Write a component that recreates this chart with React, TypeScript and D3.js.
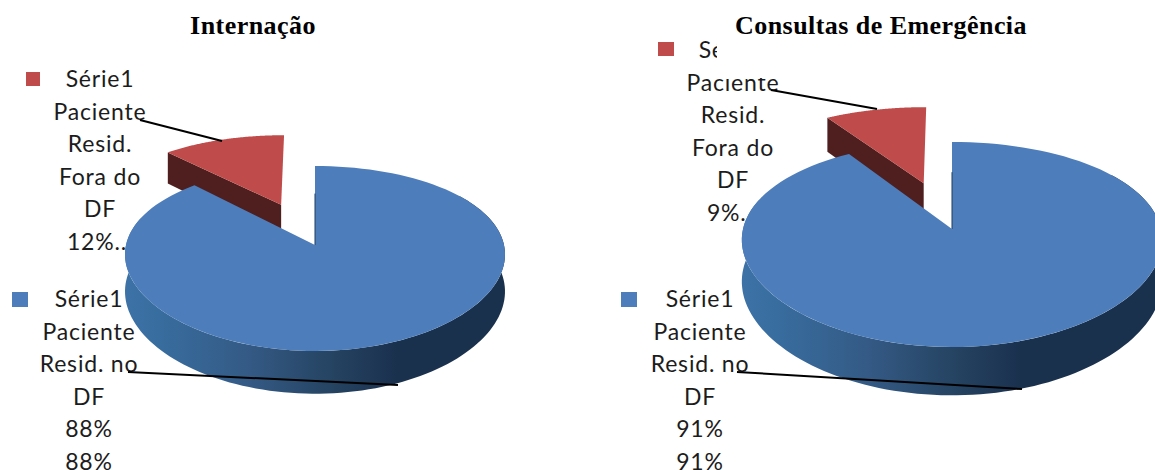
import React from "react";
import * as d3 from "d3";

// values (percent)
const categories = ["Paciente Resid. no DF", "Paciente Resid. Fora do DF"];
const internacao = [88, 12];
const emergencia = [91, 9];
const titles = ["Internação", "Consultas de Emergência"];
const blueLinesLeft = ["Série1", "Paciente", "Resid. no", "DF", "88%", "88%"];
const redLinesLeft = ["Série1", "Paciente", "Resid.", "Fora do", "DF", "12%..."];
const blueLinesRight = ["Série1", "Paciente", "Resid. no", "DF", "91%", "91%"];
const redLinesRight = ["Série1", "Paciente", "Resid.", "Fora do", "DF", "9%..."];

const BLUE = "#4d7ebb";
const RED = "#bf4c4a";
const RED_DARK = "#4f1f1f";
const EXPLODE = 0.51;
const LINE_GAP = 32.6;

type Layout = {
  id: string;
  values: number[];
  title: string;
  titleX: number;
  cx: number;
  cy: number;
  rx: number;
  ry: number;
  k: number; // perspective strength
  h: number; // pie thickness
  gradEnd: number;
  blue: { lines: string[]; x: number; y: number; swatch: number[]; leader: number[] };
  red: { lines: string[]; x: number; y: number; swatch: number[]; leader: number[] };
};

const charts: Layout[] = [
  {
    id: "a", values: internacao, title: titles[0], titleX: 253,
    cx: 315, cy: 245, rx: 189, ry: 90.5, k: 0.146, h: 36.5, gradEnd: 397,
    blue: { lines: blueLinesLeft, x: 89, y: 307, swatch: [12, 292, 16, 15], leader: [128, 372, 398, 385] },
    red: { lines: redLinesLeft, x: 100, y: 87, swatch: [26, 72, 14, 14], leader: [140, 120, 222, 141] },
  },
  {
    id: "b", values: emergencia, title: titles[1], titleX: 881,
    cx: 952, cy: 229, rx: 209, ry: 100.2, k: 0.151, h: 41, gradEnd: 1021,
    blue: { lines: blueLinesRight, x: 700, y: 307, swatch: [621, 292, 16, 15], leader: [737, 372, 1022, 389] },
    red: { lines: redLinesRight, x: 733, y: 58, swatch: [658, 42, 16, 14], leader: [771, 90, 877, 109] },
  },
];

function Pie3D({ c }: { c: Layout }) {
  const arcs = d3.pie<number>().sort(null).startAngle(0).endAngle(2 * Math.PI)(c.values);
  const [blue, red] = arcs;
  const sx = d3.scaleLinear().domain([-1, 1]).range([c.cx - c.rx, c.cx + c.rx]);
  const sy = d3.scaleLinear().domain([-1, 1]).range([c.cy - c.ry, c.cy + c.ry]);

  // plan view (u,v) -> screen, with a small perspective towards the viewer
  const project = (u: number, v: number, z = 0): [number, number] => {
    const w = 1 - c.k * v;
    return [sx(u / Math.pow(w, 0.7)), sy(v / w) + (z * c.h) / w];
  };
  const line = d3.line();
  const sample = (a0: number, a1: number, ou = 0, ov = 0, z = 0) =>
    d3.range(0, 121).map((i) => {
      const a = a0 + ((a1 - a0) * i) / 120;
      return project(ou + Math.sin(a), ov - Math.cos(a), z);
    });

  const blueTop = [project(0, 0), ...sample(blue.startAngle, blue.endAngle)];
  const front0 = Math.PI * 0.3;
  const front1 = Math.PI * 1.6;
  const blueWall = [...sample(front0, front1), ...sample(front0, front1, 0, 0, 1).reverse()];

  const mid = (red.startAngle + red.endAngle) / 2;
  const ou = Math.sin(mid) * EXPLODE;
  const ov = -Math.cos(mid) * EXPLODE;
  const redTop = [project(ou, ov), ...sample(red.startAngle, red.endAngle, ou, ov)];
  const corner = [ou + Math.sin(red.startAngle), ov - Math.cos(red.startAngle)];
  const redWall = [
    project(ou, ov),
    project(corner[0], corner[1]),
    project(corner[0], corner[1], 1),
    project(ou, ov, 1),
  ];
  const edge = [project(0, -0.62), project(0, 0)];

  const label = (lines: string[], x: number, y: number) => (
    <text textAnchor="middle" fontFamily="Lato" fontSize={23} letterSpacing={0.8} fill="#1c1c1c">
      {lines.map((t, i) => (
        <tspan key={i} x={x} y={y + i * LINE_GAP}>{t}</tspan>
      ))}
    </text>
  );

  return (
    <g>
      <title>{categories.join(" / ")}</title>
      <defs>
        <linearGradient id={"wall" + c.id} gradientUnits="userSpaceOnUse" x1={c.cx - c.rx} x2={c.gradEnd} y1={0} y2={0}>
          <stop offset="0" stopColor="#3c72a6" />
          <stop offset="0.12" stopColor="#386d9f" />
          <stop offset="0.45" stopColor="#345a85" />
          <stop offset="0.75" stopColor="#264463" />
          <stop offset="1" stopColor="#1a314e" />
        </linearGradient>
      </defs>
      {label(c.red.lines, c.red.x, c.red.y)}
      {label(c.blue.lines, c.blue.x, c.blue.y)}
      <rect x={c.blue.swatch[0]} y={c.blue.swatch[1]} width={c.blue.swatch[2]} height={c.blue.swatch[3]} fill={BLUE} />
      <rect x={c.red.swatch[0]} y={c.red.swatch[1]} width={c.red.swatch[2]} height={c.red.swatch[3]} fill={RED} />
      <path d={line(redWall)!} fill={RED_DARK} />
      <path d={line(redTop)! + "Z"} fill={RED} />
      <path d={line(blueWall)! + "Z"} fill={`url(#wall${c.id})`} />
      <path d={line(blueTop)! + "Z"} fill={BLUE} />
      <path d={line(edge)!} stroke="#1f3d5e" strokeWidth={1} fill="none" />
      <line x1={c.red.leader[0]} y1={c.red.leader[1]} x2={c.red.leader[2]} y2={c.red.leader[3]} stroke="#000" strokeWidth={2} />
      <line x1={c.blue.leader[0]} y1={c.blue.leader[1]} x2={c.blue.leader[2]} y2={c.blue.leader[3]} stroke="#000" strokeWidth={2} />
    </g>
  );
}

export default function App() {
  return (
    <svg
      width={1155}
      height={470}
      style={{ position: "absolute", left: 0, top: 0, display: "block", background: "#fff" }}
    >
      {charts.map((c) => (
        <Pie3D key={c.id} c={c} />
      ))}
      {/* the title box of the right chart sits on top of its label */}
      <rect x={717} y={0} width={320} height={78} fill="#fff" />
      {charts.map((c) => (
        <text
          key={c.id}
          x={c.titleX}
          y={34}
          textAnchor="middle"
          fontFamily="Liberation Serif"
          fontWeight="bold"
          fontSize={26}
          letterSpacing={0.45}
          fill="#000"
        >
          {c.title}
        </text>
      ))}
    </svg>
  );
}
